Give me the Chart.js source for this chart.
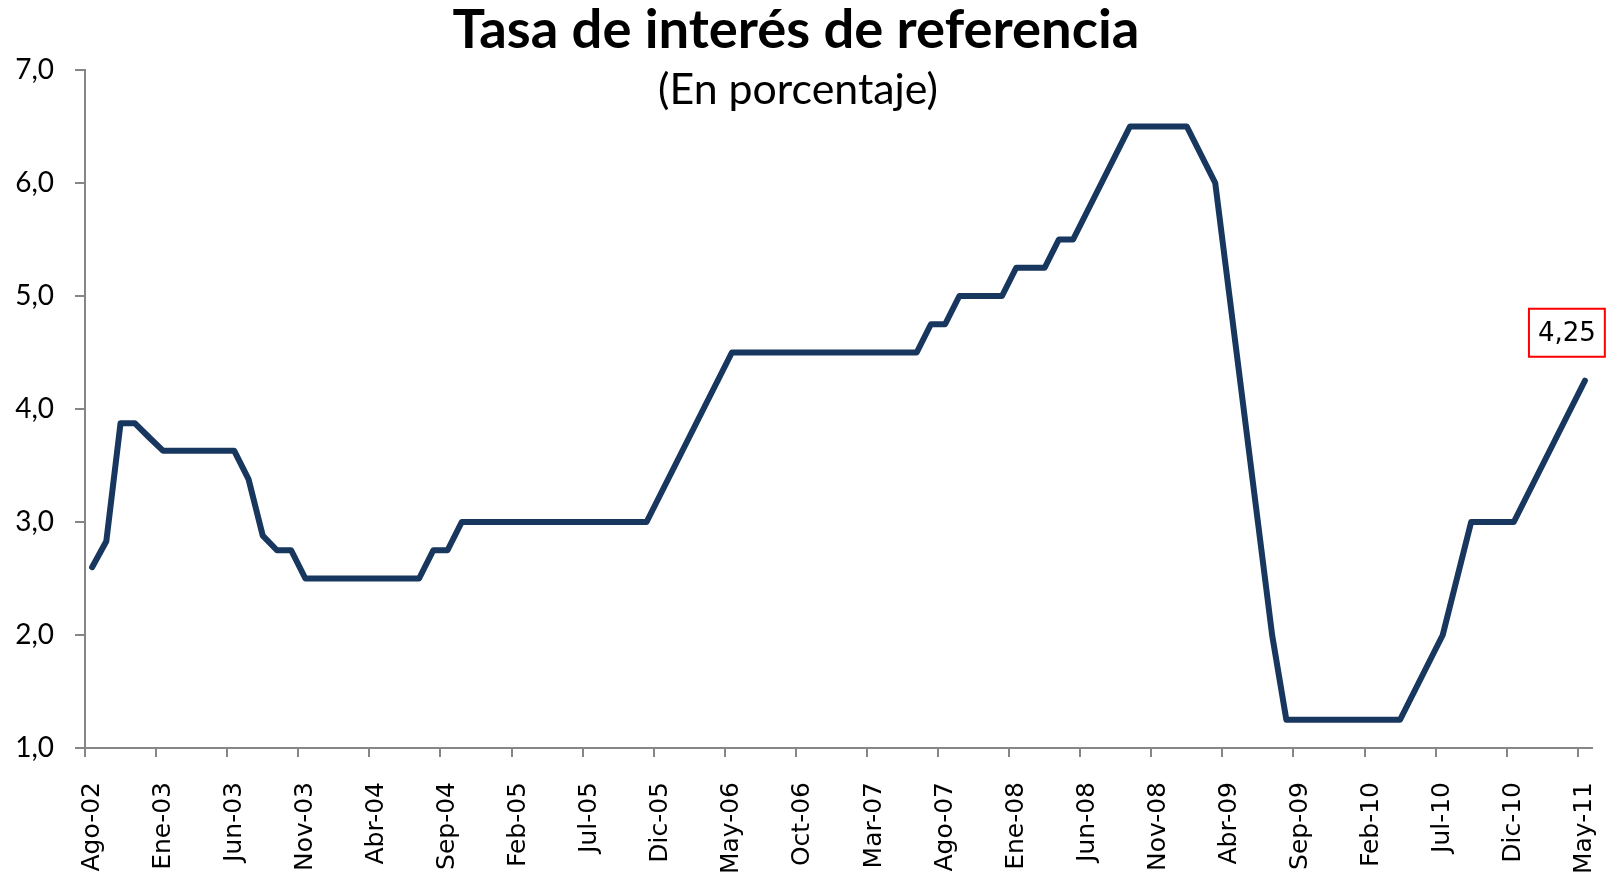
<!DOCTYPE html>
<html>
<head>
<meta charset="utf-8">
<script src="https://cdn.jsdelivr.net/npm/chart.js@4.4.1/dist/chart.umd.min.js"></script>
<style>
  html, body { margin: 0; padding: 0; background: #fff; }
  #wrap { width: 1612px; height: 876px; }
</style>
</head>
<body>
<div id="wrap"><canvas id="rateChart" width="1612" height="876"></canvas></div>
<script>
// Spanish month abbreviations for the category axis
const monthNames = ["Ene", "Feb", "Mar", "Abr", "May", "Jun", "Jul", "Ago", "Sep", "Oct", "Nov", "Dic"];

// monthly reference rate, Ago-02 .. May-11
const rateValues = [
  2.60, 2.83, 3.875, 3.875, 3.75,                                     // 2002 (Ago-Dic)
  3.63, 3.63, 3.63, 3.63, 3.63, 3.63, 3.38, 2.88, 2.75, 2.75, 2.50, 2.50, // 2003
  2.50, 2.50, 2.50, 2.50, 2.50, 2.50, 2.50, 2.75, 2.75, 3.00, 3.00, 3.00, // 2004
  3.00, 3.00, 3.00, 3.00, 3.00, 3.00, 3.00, 3.00, 3.00, 3.00, 3.00, 3.25, // 2005
  3.50, 3.75, 4.00, 4.25, 4.50, 4.50, 4.50, 4.50, 4.50, 4.50, 4.50, 4.50, // 2006
  4.50, 4.50, 4.50, 4.50, 4.50, 4.50, 4.75, 4.75, 5.00, 5.00, 5.00, 5.00, // 2007
  5.25, 5.25, 5.25, 5.50, 5.50, 5.75, 6.00, 6.25, 6.50, 6.50, 6.50, 6.50, // 2008
  6.50, 6.25, 6.00, 5.00, 4.00, 3.00, 2.00, 1.25, 1.25, 1.25, 1.25, 1.25, // 2009
  1.25, 1.25, 1.25, 1.25, 1.50, 1.75, 2.00, 2.50, 3.00, 3.00, 3.00, 3.00, // 2010
  3.25, 3.50, 3.75, 4.00, 4.25                                        // 2011 (Ene-May)
];

// y-axis range and step
const yTicks = { min: 1, max: 7, step: 1 };

const chartTitle = "Tasa de interés de referencia";
const chartSubtitle = "(En porcentaje)";

// category labels "Ago-02" ... "May-11"
const startYear = 2002;
const startMonth = 7; // Ago
const dateLabels = rateValues.map((_, i) => {
  const m = (startMonth + i) % 12;
  const y = startYear + Math.floor((startMonth + i) / 12);
  return monthNames[m] + "-" + String(y % 100).padStart(2, "0");
});

const axisGray = "#868686";
const lineBlue = "#17375E";

function fmt(v, digits) {
  return v.toFixed(digits).replace(".", ",");
}

// fits a font size so that text takes the given width
function fitSize(ctx, text, weight, family, width) {
  ctx.font = `${weight} 100px ${family}`;
  return (100 * width) / ctx.measureText(text).width;
}

const titlePlugin = {
  id: "titles",
  afterDraw(chart) {
    const ctx = chart.ctx;
    ctx.save();
    ctx.fillStyle = "#000";
    ctx.textAlign = "center";
    ctx.textBaseline = "alphabetic";
    let size = fitSize(ctx, chartTitle, "bold", "Lato", 687);
    ctx.font = `bold ${size}px Lato`;
    ctx.fillText(chartTitle, 796, 48);
    size = fitSize(ctx, chartSubtitle, "normal", "Lato", 280);
    ctx.font = `normal ${size}px Lato`;
    ctx.fillText(chartSubtitle, 798, 104);
    ctx.restore();
  },
};

// red boxed label over the last point
const lastValuePlugin = {
  id: "lastValue",
  afterDatasetsDraw(chart) {
    const meta = chart.getDatasetMeta(0);
    const pt = meta.data[meta.data.length - 1];
    const text = fmt(rateValues[rateValues.length - 1], 2);
    const ctx = chart.ctx;
    ctx.save();
    ctx.font = "26px 'DejaVu Sans'";
    const w = ctx.measureText(text).width + 18;
    const h = 48;
    const cx = pt.x - 18;
    const cy = pt.y - 48;
    ctx.fillStyle = "#fff";
    ctx.fillRect(cx - w / 2, cy - h / 2, w, h);
    ctx.strokeStyle = "#FF0000";
    ctx.lineWidth = 2;
    ctx.strokeRect(cx - w / 2, cy - h / 2, w, h);
    ctx.fillStyle = "#000";
    ctx.textAlign = "center";
    ctx.textBaseline = "middle";
    ctx.fillText(text, cx, cy + 1);
    ctx.restore();
  },
};

const ctx = document.getElementById("rateChart").getContext("2d");
window.myChart = new Chart(ctx, {
  type: "line",
  data: {
    labels: dateLabels,
    datasets: [
      {
        label: "Tasa de referencia",
        data: rateValues,
        borderColor: lineBlue,
        borderWidth: 6,
        pointRadius: 0,
        tension: 0,
        borderJoinStyle: "round",
        borderCapStyle: "round",
      },
    ],
  },
  options: {
    responsive: false,
    animation: false,
    layout: { padding: { top: 70, right: 20, left: 0, bottom: 0 } },
    plugins: {
      legend: { display: false },
      tooltip: { enabled: false },
    },
    scales: {
      x: {
        type: "category",
        offset: true,
        grid: {
          offset: true,
          drawOnChartArea: false,
          tickLength: 9,
          lineWidth: 2,
          color: (c) => (c.index % 5 === 0 ? axisGray : "rgba(0,0,0,0)"),
        },
        border: { color: axisGray, width: 2 },
        ticks: {
          autoSkip: false,
          minRotation: 90,
          maxRotation: 90,
          padding: 25,
          color: "#000",
          font: { family: "'DejaVu Sans'", size: 25 },
          callback: (v, i) => (i % 5 === 0 ? dateLabels[i] : ""),
        },
        afterFit: (s) => {
          s.height = 128;
          // keep the plot reaching the right edge like the original
          s.paddingLeft = 0;
          s.paddingRight = 0;
        },
      },
      y: {
        min: yTicks.min,
        max: yTicks.max,
        grid: {
          drawOnChartArea: false,
          tickLength: 10,
          lineWidth: 2,
          color: axisGray,
        },
        border: { color: axisGray, width: 2 },
        ticks: {
          stepSize: yTicks.step,
          padding: 21,
          color: "#000",
          font: { family: "Lato", size: 28 },
          callback: (v) => fmt(v, 1),
        },
        afterFit: (s) => { s.width = 85; },
      },
    },
  },
  plugins: [titlePlugin, lastValuePlugin],
});
</script>
</body>
</html>
